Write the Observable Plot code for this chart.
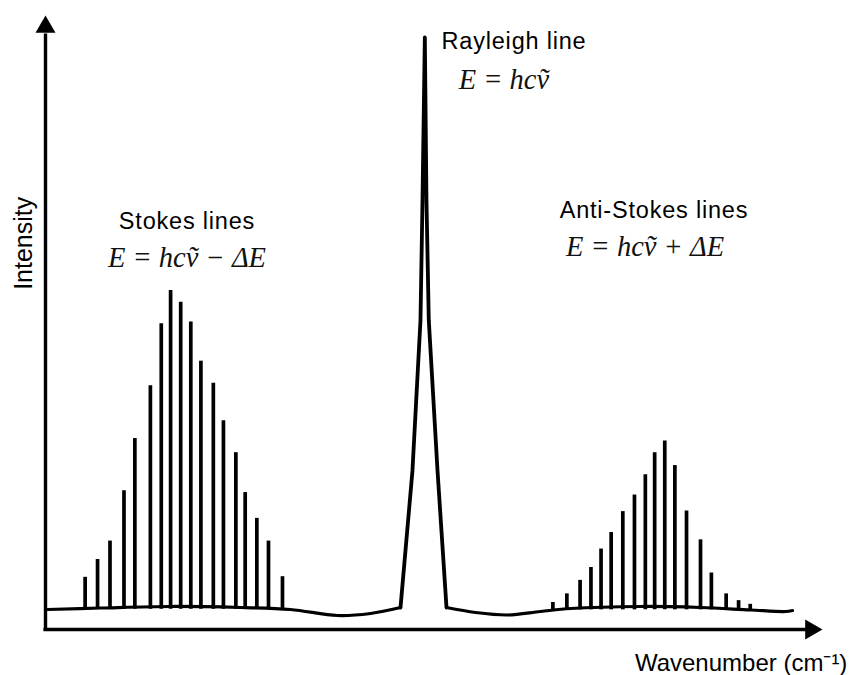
<!DOCTYPE html>
<html><head><meta charset="utf-8">
<script src="https://cdn.jsdelivr.net/npm/d3@7"></script>
<script src="https://cdn.jsdelivr.net/npm/@observablehq/plot@0.6"></script>
<style>
body{margin:0;background:#fff}
g[font-family="Liberation Sans, Arial, sans-serif"] text{letter-spacing:0.8px}
</style></head><body><div id="chart"></div><script>
// Stokes lines (relative wavenumber, intensity)
const stokesX = [5.1, 6.7, 8.3, 10.1, 11.5, 13.5, 14.9, 16.1, 17.4, 18.7, 20.0, 21.6, 22.9, 24.5, 25.7, 27.2, 28.7, 30.5];
const stokesI = [8.5, 11.4, 14.4, 22.6, 31.1, 39.7, 49.8, 55.2, 53.3, 50.1, 43.7, 40.1, 34.0, 28.8, 22.3, 18.1, 14.4, 8.6];
// Anti-Stokes lines
const antiX = [65.3, 67.1, 68.8, 70.2, 71.5, 72.8, 74.3, 75.8, 77.2, 78.4, 79.7, 81.0, 82.5, 84.3, 85.7, 87.6, 89.2, 90.7];
const antiI = [4.4, 5.8, 8.0, 10.1, 13.1, 15.8, 19.2, 21.9, 25.2, 28.8, 30.7, 26.7, 19.3, 14.6, 9.2, 5.8, 4.7, 4.1];
// Baseline (left of Rayleigh line)
const baseLeftX = [0.26, 7.08, 16.09, 25.10, 31.53, 37.58, 41.83, 45.69];
const baseLeftI = [3.26, 3.50, 3.75, 3.58, 3.26, 2.28, 2.61, 3.58];
// Rayleigh peak
const peakX = [45.69, 47.23, 48.26, 48.52, 48.82, 49.03, 49.33, 50.45, 51.61];
const peakI = [3.58, 25.90, 50.33, 69.87, 96.42, 69.87, 50.33, 25.90, 3.58];
// Baseline (right of Rayleigh line)
const baseRightX = [51.61, 55.34, 59.46, 63.71, 67.57, 76.58, 84.30, 90.73, 95.24, 96.14];
const baseRightI = [3.58, 2.77, 2.36, 2.93, 3.42, 3.75, 3.58, 3.18, 2.93, 3.09];

const lineLabels = ["Rayleigh line", "Stokes lines", "Anti-Stokes lines"];
const formulas = ["E = hc\u1E7D", "E = hc\u1E7D \u2212 \u0394E", "E = hc\u1E7D + \u0394E"];
const axisLabels = ["Intensity", "Wavenumber (cm\u207B\u00B9)"];

// annotation anchors (data units)
const rayleighLabel = [{text: lineLabels[0], x: 50.97, y: 94.6}];
const sideLabels = [
  {text: lineLabels[1], x: 18.21, y: 65.3},
  {text: lineLabels[2], x: 78.31, y: 67.1}
];
const formulaAnchors = [
  {text: formulas[0], x: 59.0, y: 88.1},
  {text: formulas[1], x: 18.21, y: 59.1},
  {text: formulas[2], x: 77.16, y: 60.9}
];

const stokes = stokesX.map((x, i) => ({x, y: stokesI[i]}));
const anti = antiX.map((x, i) => ({x, y: antiI[i]}));
const baseLeft = baseLeftX.map((x, i) => ({x, y: baseLeftI[i]}));
const peak = peakX.map((x, i) => ({x, y: peakI[i]}));
const baseRight = baseRightX.map((x, i) => ({x, y: baseRightI[i]}));

const sans = "Liberation Sans, Arial, sans-serif";
const sansAxis = "Arial, Liberation Sans, sans-serif";
const serif = "Liberation Serif, DejaVu Serif, serif";

const plot = Plot.plot({
  width: 851,
  height: 675,
  marginLeft: 45,
  marginRight: 29,
  marginTop: 15,
  marginBottom: 46,
  x: {domain: [0, 100], axis: null},
  y: {domain: [0, 100], axis: null},
  style: {background: "white", overflow: "visible"},
  marks: [
    // axes
    Plot.ruleX([0], {y1: -0.25, y2: 97, stroke: "black", strokeWidth: 3.4}),
    Plot.ruleY([0], {x1: -0.2, x2: 98, stroke: "black", strokeWidth: 3.4}),
    Plot.dot([{x: 0, y: 100}], {x: "x", y: "y", symbol: "triangle", r: 7.42, fill: "black", stroke: null, dy: 11.55}),
    Plot.dot([{x: 100, y: 0}], {x: "x", y: "y", symbol: "triangle", r: 7.42, fill: "black", stroke: null, rotate: 90, dx: -11.55}),
    // Stokes & anti-Stokes lines
    Plot.ruleX(stokes, {x: "x", y1: 3.3, y2: "y", stroke: "black", strokeWidth: 3.7}),
    Plot.ruleX(anti, {x: "x", y1: 3.2, y2: "y", stroke: "black", strokeWidth: 3.7}),
    // baseline
    Plot.line(baseLeft, {x: "x", y: "y", curve: "catmull-rom", stroke: "black", strokeWidth: 3.2, strokeLinecap: "round"}),
    Plot.line(baseRight, {x: "x", y: "y", curve: "catmull-rom", stroke: "black", strokeWidth: 3.2, strokeLinecap: "round"}),
    // Rayleigh peak
    Plot.line(peak, {x: "x", y: "y", curve: "linear", stroke: "black", strokeWidth: 3.8, strokeLinejoin: "round"}),
    // labels
    Plot.text(rayleighLabel, {x: "x", y: "y", text: "text", textAnchor: "start", lineAnchor: "bottom", fontSize: 23.5, fontFamily: sans, fill: "black"}),
    Plot.text(sideLabels, {x: "x", y: "y", text: "text", textAnchor: "middle", lineAnchor: "bottom", fontSize: 23.5, fontFamily: sans, fill: "black"}),
    Plot.text(formulaAnchors, {x: "x", y: "y", text: "text", textAnchor: "middle", lineAnchor: "bottom", fontSize: 28.5, fontFamily: serif, fontStyle: "italic", fill: "#111"}),
    Plot.text([axisLabels[0]], {x: -1.74, y: 62.9, text: d => d, rotate: -90, textAnchor: "middle", lineAnchor: "bottom", fontSize: 25, fontFamily: sansAxis, fill: "black"}),
    Plot.text([axisLabels[1]], {x: 103.2, y: -6.68, text: d => d, textAnchor: "end", lineAnchor: "bottom", fontSize: 24, fontFamily: sansAxis, fill: "black"})
  ]
});
document.getElementById("chart").appendChild(plot);
</script></body></html>
